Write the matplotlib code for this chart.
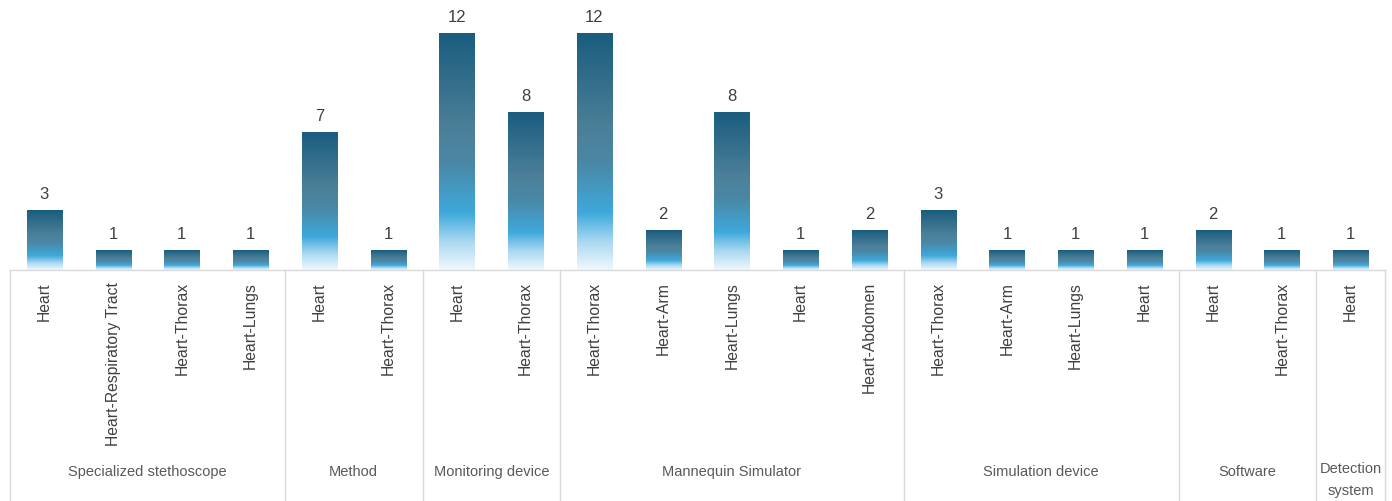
import matplotlib
matplotlib.use("Agg")
import matplotlib.pyplot as plt
import matplotlib.transforms as mtransforms
from matplotlib.colors import LinearSegmentedColormap
import numpy as np

# Data
groups = ["Specialized stethoscope", "Method", "Monitoring device",
          "Mannequin Simulator", "Simulation device", "Software",
          "Detection\nsystem"]
group_sizes = [4, 2, 2, 5, 4, 2, 1]
labels = ["Heart", "Heart-Respiratory Tract", "Heart-Thorax", "Heart-Lungs",
          "Heart", "Heart-Thorax",
          "Heart", "Heart-Thorax",
          "Heart-Thorax", "Heart-Arm", "Heart-Lungs", "Heart", "Heart-Abdomen",
          "Heart-Thorax", "Heart-Arm", "Heart-Lungs", "Heart",
          "Heart", "Heart-Thorax",
          "Heart"]
values = [3, 1, 1, 1, 7, 1, 12, 8, 12, 2, 8, 1, 2, 3, 1, 1, 1, 2, 1, 1]

W, H = 1392, 502
fig = plt.figure(figsize=(W / 100, H / 100), dpi=100)
base_px = 271
ax = fig.add_axes([10 / W, (H - base_px) / H, 1375 / W, (base_px - 2) / H])

# vertical gradient: dark teal at top -> blue -> almost white at bottom
grad_cmap = LinearSegmentedColormap.from_list("bar_grad", [
    (0.0, "#f0f8fd"),
    (0.12, "#a9d8f0"),
    (0.24, "#3ea9dc"),
    (0.45, "#4a88a6"),
    (0.6, "#4c7f98"),
    (1.0, "#1a5d7f"),
])
grad = np.linspace(0, 1, 256).reshape(-1, 1)

bar_w = 0.51
x = np.arange(len(values))
for xi, v in zip(x, values):
    ax.imshow(grad, cmap=grad_cmap, origin="lower", aspect="auto",
              extent=[xi - bar_w / 2, xi + bar_w / 2, 0, v], zorder=2)
    ax.annotate(str(v), (xi, v), xytext=(0, 7), textcoords="offset points",
                ha="center", va="bottom", fontsize=12, color="#404040",
                family="Liberation Sans")

ax.set_xlim(-0.5, len(values) - 0.5)
ax.set_ylim(0, 12 * (base_px - 2) / 236)
ax.set_yticks([])
ax.set_xticks(x)
ax.set_xticklabels(labels, rotation=90, fontsize=11.3, color="#404040",
                   family="Liberation Sans", va="top")
ax.tick_params(axis="x", length=0, pad=8)
for s in ["top", "right", "left"]:
    ax.spines[s].set_visible(False)
ax.spines["bottom"].set_color("#d9d9d9")
ax.spines["bottom"].set_linewidth(1)

# group separators and labels
trans = mtransforms.blended_transform_factory(ax.transData, fig.transFigure)
bounds = np.concatenate([[0], np.cumsum(group_sizes)]) - 0.5
top_y = (H - base_px) / H
for b in bounds:
    ax.plot([b, b], [0, top_y], transform=trans, color="#d9d9d9", lw=1,
            clip_on=False)
for i, g in enumerate(groups):
    mid = (bounds[i] + bounds[i + 1]) / 2
    if "\n" in g:
        ax.text(mid, (H - 462) / H, g, transform=trans, ha="center", va="top",
                fontsize=10.5, color="#595959", family="Liberation Sans",
                linespacing=1.7)
    else:
        ax.text(mid, (H - 472) / H, g, transform=trans, ha="center",
                va="center", fontsize=10.5, color="#595959",
                family="Liberation Sans")

fig.savefig("out.png", dpi=100)
